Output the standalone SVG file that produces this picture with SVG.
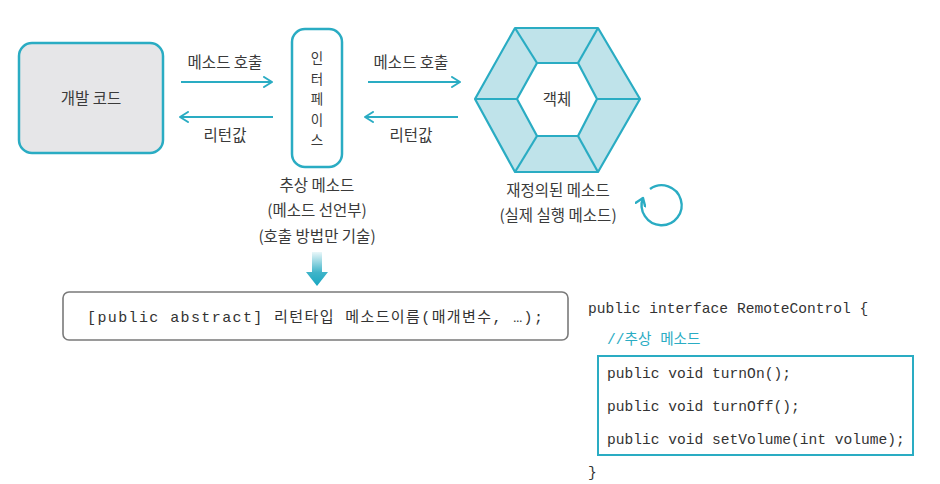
<svg xmlns="http://www.w3.org/2000/svg" width="940" height="484" viewBox="0 0 940 484">
<defs>
<style>
.lbl{font-family:"Noto Sans CJK KR","Liberation Sans",sans-serif;font-size:15.5px;fill:#3a3a3a;}
.vert{font-family:"Noto Sans CJK KR","Liberation Sans",sans-serif;font-size:13.5px;fill:#3a3a3a;}
.mono{font-family:"Liberation Mono","Noto Sans CJK KR",monospace;font-size:14.6px;fill:#333;}
.conn{stroke:#2aacc3;stroke-width:2;fill:none;marker-end:url(#chev);}
</style>
<marker id="chev" viewBox="0 0 10 12" refX="9" refY="6" markerWidth="10" markerHeight="12" markerUnits="userSpaceOnUse" orient="auto">
<path d="M1,1 L9,6 L1,11" fill="none" stroke="#2aacc3" stroke-width="2" stroke-linecap="round" stroke-linejoin="round"/>
</marker>
<marker id="chev2" viewBox="0 0 12 12" refX="8" refY="6" markerWidth="12" markerHeight="12" markerUnits="userSpaceOnUse" orient="auto">
<path d="M1,1 L8,6 L1,11" fill="none" stroke="#2aacc3" stroke-width="2.4" stroke-linecap="round" stroke-linejoin="round"/>
</marker>
<linearGradient id="dg" x1="0" y1="0" x2="0" y2="1">
<stop offset="0" stop-color="#2aacc3" stop-opacity="0.1"/>
<stop offset="0.6" stop-color="#2aacc3" stop-opacity="0.9"/>
<stop offset="1" stop-color="#17a6c1"/>
</linearGradient>
</defs>
<rect width="940" height="484" fill="#ffffff"/>

<g id="dev-code">
<rect x="19" y="43" width="144" height="110" rx="13" fill="#e6e6e8" stroke="#2aacc3" stroke-width="2.5"/>
<text class="lbl" x="91" y="104" text-anchor="middle">개발 코드</text>
</g>

<g id="interface">
<rect x="292" y="29" width="50" height="138" rx="13" fill="#ffffff" stroke="#2aacc3" stroke-width="2.5"/>
<text class="vert" x="317" y="63" text-anchor="middle">인</text>
<text class="vert" x="317" y="83.5" text-anchor="middle">터</text>
<text class="vert" x="317" y="104" text-anchor="middle">페</text>
<text class="vert" x="317" y="124.5" text-anchor="middle">이</text>
<text class="vert" x="317" y="145" text-anchor="middle">스</text>
<text class="lbl" x="317" y="191" text-anchor="middle">추상 메소드</text>
<text class="lbl" x="317" y="216" text-anchor="middle">(메소드 선언부)</text>
<text class="lbl" x="317" y="242" text-anchor="middle">(호출 방법만 기술)</text>
</g>

<g id="object">
<polygon points="515,28 598,28 640,99 598,172 515,172 475,99" fill="#bfe3ea" stroke="#2aacc3" stroke-width="2.2" stroke-linejoin="round"/>
<polygon points="537,63 578,63 597,99 578,136 537,136 517,99" fill="#ffffff" stroke="#2aacc3" stroke-width="2.2" stroke-linejoin="round"/>
<g stroke="#2aacc3" stroke-width="2.2">
<line x1="515" y1="28" x2="537" y2="63"/>
<line x1="598" y1="28" x2="578" y2="63"/>
<line x1="640" y1="99" x2="597" y2="99"/>
<line x1="598" y1="172" x2="578" y2="136"/>
<line x1="515" y1="172" x2="537" y2="136"/>
<line x1="475" y1="99" x2="517" y2="99"/>
</g>
<text class="lbl" x="557" y="105" text-anchor="middle">객체</text>
<text class="lbl" x="558" y="196" text-anchor="middle">재정의된 메소드</text>
<text class="lbl" x="558" y="221" text-anchor="middle">(실제 실행 메소드)</text>
<path d="M650,189 A20,20 0 1 1 643,198" fill="none" stroke="#2aacc3" stroke-width="2.4" marker-end="url(#chev2)"/>
</g>

<g id="connectors">
<line class="conn" x1="181" y1="82" x2="272" y2="82"/>
<line class="conn" x1="273" y1="117" x2="180" y2="117"/>
<line class="conn" x1="368" y1="82" x2="460" y2="82"/>
<line class="conn" x1="458" y1="117" x2="365" y2="117"/>
<path d="M312,252 L322,252 L322,272 L328,272 L317,286 L306,272 L312,272 Z" fill="url(#dg)"/>
</g>

<g id="conn-labels">
<text class="lbl" x="225" y="68" text-anchor="middle">메소드 호출</text>
<text class="lbl" x="225" y="141" text-anchor="middle">리턴값</text>
<text class="lbl" x="411" y="68" text-anchor="middle">메소드 호출</text>
<text class="lbl" x="411" y="141" text-anchor="middle">리턴값</text>
</g>

<g id="syntax-box">
<rect x="63" y="292" width="505" height="48" rx="6" fill="#ffffff" stroke="#7a7a7a" stroke-width="1.6"/>
<text class="mono" x="87" y="322" textLength="456" lengthAdjust="spacing" style="font-size:15px">[public abstract] 리턴타입 메소드이름(매개변수, …);</text>
</g>

<g id="code">
<text class="mono" x="588" y="313">public interface RemoteControl {</text>
<text class="mono" x="607" y="344" style="fill:#2aacc3">//추상 메소드</text>
<rect x="598" y="356" width="315" height="99" fill="#ffffff" stroke="#2aacc3" stroke-width="2"/>
<text class="mono" x="607" y="378">public void turnOn();</text>
<text class="mono" x="607" y="411">public void turnOff();</text>
<text class="mono" x="607" y="444">public void setVolume(int volume);</text>
<text class="mono" x="588" y="477">}</text>
</g>
</svg>
